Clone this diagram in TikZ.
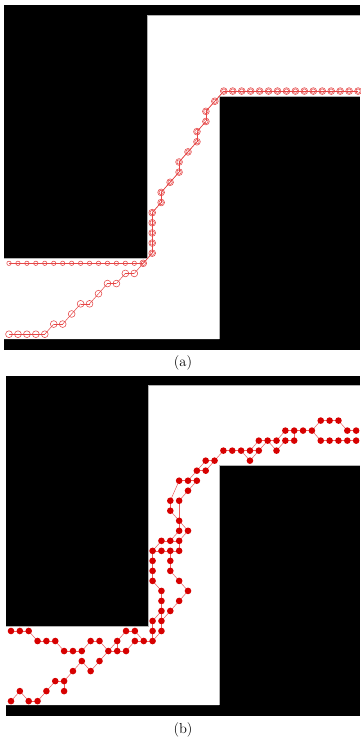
\documentclass[tikz,border=0pt]{standalone}
\pgfdeclarelayer{bg}
\pgfdeclarelayer{edges}
\pgfsetlayers{bg,edges,main}
\definecolor{apath}{RGB}{230,70,70}
\definecolor{bdotc}{RGB}{215,0,0}
\definecolor{blinec}{RGB}{235,95,95}
\begin{document}
\begin{tikzpicture}[x=1pt,y=-1pt,
  smallc/.style={circle,draw=apath,line width=0.55pt,minimum size=4.4pt,inner sep=0pt},
  largec/.style={circle,draw=apath,line width=0.55pt,minimum size=6.8pt,inner sep=0pt},
  aline/.style={draw=apath,line width=0.5pt},
  bdot/.style={circle,fill=bdotc,minimum size=6.6pt,inner sep=0pt},
  bline/.style={draw=blinec,line width=0.5pt},
  freearea/.style={fill=white},
  rim/.style={draw=gray!60,line width=0.6pt},
  captext/.style={font=\fontsize{14.5}{16}\selectfont,inner sep=0pt}
]
\useasboundingbox (0,0) rectangle (360,741);

\begin{pgfonlayer}{bg}
% panel (a) map
\fill[black] (4,5) rectangle (360,350);
\path[freearea] (147.7,15.3) -- (360,15.3) -- (360,96.7) -- (219.3,96.7) -- (219.3,339) -- (4,339) -- (4,258.3) -- (147.7,258.3) -- cycle;
\draw[rim] (360,15.3) -- (147.7,15.3) -- (147.7,258.3) -- (4,258.3);
\draw[rim] (360,96.7) -- (219.3,96.7) -- (219.3,339);
% panel (b) map
\fill[black] (6,376) rectangle (360,715.7);
\path[freearea] (148.3,385.7) -- (360,385.7) -- (360,465.7) -- (219,465.7) -- (219,705) -- (6,705) -- (6,626) -- (148.3,626) -- cycle;
\draw[rim] (360,385.7) -- (148.3,385.7) -- (148.3,626) -- (6,626);
\draw[rim] (360,465.7) -- (219,465.7) -- (219,705);
\end{pgfonlayer}

% ---------- panel (a): path with small circles ----------
\foreach \i/\j [count=\k, remember=\k as \p (initially 0)] in {0/0,1/0,2/0,3/0,4/0,5/0,6/0,7/0,8/0,9/0,10/0,11/0,12/0,13/0,14/0,15/0,16/1,16/2,16/3,16/4,16/5,17/6,17/7,18/8,19/9,19/10,20/11,21/12,21/13,22/14,22/15,23/16,24/17,25/17,26/17,27/17,28/17,29/17,30/17,31/17,32/17,33/17,34/17,35/17,36/17,37/17,38/17,39/17}{
  \node[smallc] (pa\k) at ({9+8.95*\i},{263.3-10.13*(\j)}) {};
  \ifnum\k>1 \draw[aline] (pa\p.center) -- (pa\k.center); \fi
}
% ---------- panel (a): path with large circles ----------
\foreach \i/\j [count=\k, remember=\k as \p (initially 0)] in {0/-7,1/-7,2/-7,3/-7,4/-7,5/-6,6/-6,7/-5,8/-4,9/-4,10/-3,11/-2,12/-2,13/-1,14/-1,15/0,16/1,16/2,16/3,16/4,16/5,17/6,17/7,18/8,19/9,19/10,20/11,21/12,21/13,22/14,22/15,23/16,24/17,25/17,26/17,27/17,28/17,29/17,30/17,31/17,32/17,33/17,34/17,35/17,36/17,37/17,38/17,39/17}{
  \node[largec] (pb\k) at ({9+8.95*\i},{263.3-10.13*(\j)}) {};
  \ifnum\k>1 \draw[aline] (pb\p.center) -- (pb\k.center); \fi
}
\node[captext] (capa) at (183,362.5) {(a)};

% ---------- panel (b): dots ----------
\foreach \J/\is in {0/{0,2,3},1/{1,4,6},2/{5,6},3/{7,9},4/{8,10},5/{6,7,8,11,12,13},6/{3,4,5,9,10,12,14,15,16},7/{0,1,2,13,14,16,17},8/{16,17},9/{17,18},10/{17,19},11/{17,20},12/{16,19},13/{16,18},14/{16,18},15/{16,17,18,19},16/{17,18,19},17/{19,20},18/{19},19/{18},20/{18,19},21/{20},22/{19,20,21},23/{21,22},24/{22,23,27},25/{24,25,26,27,28,30},26/{28,29,30,31,32,35,36,37,38,39},27/{31,32,33,34,38,39},28/{35,36,37}}{
  \foreach \i in \is {
    \node[bdot] (b\i x\J) at ({11+8.85*\i},{701.14-10.02*\J}) {};
  }
}
\begin{pgfonlayer}{edges}
\foreach \a/\b/\c/\d in {0/0/1/1,1/1/2/0,2/0/3/0,3/0/4/1,4/1/5/2,5/2/6/2,6/2/6/1,6/2/7/3,7/3/8/4,8/4/9/3,9/3/10/4,10/4/11/5,
 0/7/1/7,1/7/2/7,2/7/3/6,3/6/4/6,4/6/5/6,5/6/6/5,6/5/7/5,7/5/8/5,8/5/9/6,9/6/10/6,10/6/11/5,11/5/12/5,12/5/13/5,11/5/12/6,12/6/12/5,12/6/13/7,13/7/14/7,14/7/15/6,13/5/14/6,14/6/15/6,15/6/16/6,16/6/16/7,16/7/16/8,16/6/17/7,17/7/17/8,
 17/8/17/9,16/8/17/9,17/9/17/10,17/10/17/11,17/11/16/12,16/12/16/13,16/13/16/14,16/14/16/15,17/8/18/9,18/9/19/10,19/10/20/11,20/11/19/12,19/12/18/13,18/13/18/14,18/14/18/15,
 16/15/17/15,17/15/18/15,18/15/19/15,16/15/17/16,17/16/18/16,18/16/19/16,19/15/19/16,18/16/19/17,19/16/20/17,19/17/19/18,20/17/19/18,19/18/19/20,19/18/18/19,18/19/18/20,18/20/19/22,19/20/20/21,20/21/21/22,19/22/20/22,20/22/21/22,20/22/21/23,21/23/22/23,21/23/22/24,22/23/23/24,22/24/23/24,23/24/24/25,
 24/25/25/25,25/25/26/25,26/25/27/25,27/25/28/25,26/25/27/24,27/24/28/25,27/25/28/26,28/26/29/26,28/25/29/26,29/26/30/25,29/26/30/26,30/26/31/27,30/25/31/26,31/26/32/26,31/27/32/27,32/26/32/27,32/27/33/27,33/27/34/27,34/27/35/28,35/28/36/28,36/28/37/28,37/28/38/27,38/27/39/27,34/27/35/26,35/26/36/26,36/26/37/26,37/26/38/26,38/26/39/26}{
  \draw[bline] (b\a x\b.center) -- (b\c x\d.center);
}
\end{pgfonlayer}
\node[captext] (capb) at (183,729.5) {(b)};
\end{tikzpicture}
\end{document}
